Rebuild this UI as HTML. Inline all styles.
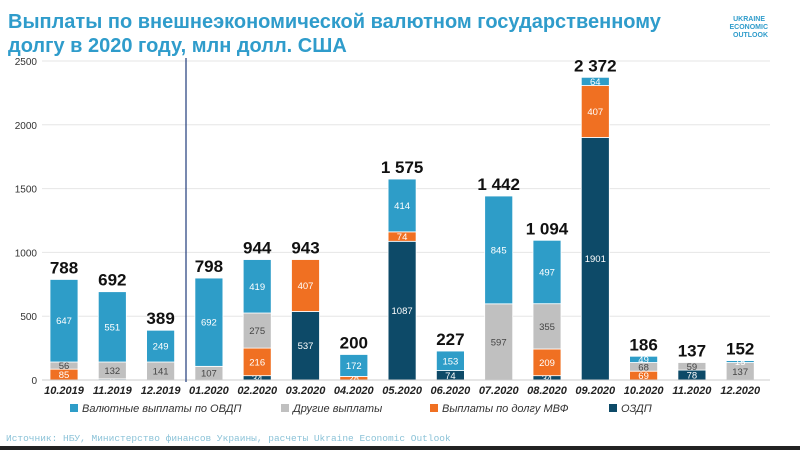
<!DOCTYPE html>
<html><head><meta charset="utf-8"><style>
body{margin:0;background:#fff;width:800px;height:450px;overflow:hidden;font-family:"Liberation Sans",sans-serif}
</style></head><body>
<svg id="s" width="800" height="450" xmlns="http://www.w3.org/2000/svg" font-family="Liberation Sans, sans-serif">
<text x="8" y="28" font-size="20" font-weight="bold" fill="#2f9ccb">Выплаты по внешнеэкономической валютном государственному</text>
<text x="8" y="52" font-size="20" font-weight="bold" fill="#2f9ccb">долгу в 2020 году, млн долл. США</text>
<text x="765" y="21" font-size="7" fill="#2f9ccb" text-anchor="end" font-weight="bold">UKRAINE</text>
<text x="768" y="29" font-size="7" fill="#2f9ccb" text-anchor="end" font-weight="bold">ECONOMIC</text>
<text x="768" y="37" font-size="7" fill="#2f9ccb" text-anchor="end" font-weight="bold">OUTLOOK</text>
<g id="g"></g>
<line x1="186" y1="58" x2="186" y2="382" stroke="#1f3b7a" stroke-width="1.2"/>
<g font-size="11" font-style="italic" fill="#333">
<rect x="70" y="404" width="8" height="8" fill="#2e9dc8"/><text x="82" y="412">Валютные выплаты по ОВДП</text>
<rect x="281" y="404" width="8" height="8" fill="#c0c0c0"/><text x="293" y="412">Другие выплаты</text>
<rect x="430" y="404" width="8" height="8" fill="#f07022"/><text x="442" y="412">Выплаты по долгу МВФ</text>
<rect x="609" y="404" width="8" height="8" fill="#0d4a68"/><text x="621" y="412">ОЗДП</text>
</g>
<text x="6" y="441" font-size="9.5" font-family="Liberation Mono, monospace" fill="#8cc3d8">Источник: НБУ, Министерство финансов Украины, расчеты Ukraine Economic Outlook</text>
<rect x="0" y="446" width="800" height="4" fill="#222"/>
</svg>
<script>
var d=[["10.2019",0,85,56,647,"788"],["11.2019",9,0,132,551,"692"],["12.2019",0,0,141,249,"389"],["01.2020",0,0,107,692,"798"],["02.2020",34,216,275,419,"944"],["03.2020",537,407,0,0,"943"],["04.2020",0,28,0,172,"200"],["05.2020",1087,74,0,414,"1 575"],["06.2020",74,0,0,153,"227"],["07.2020",0,0,597,845,"1 442"],["08.2020",34,209,355,497,"1 094"],["09.2020",1901,407,0,64,"2 372"],["10.2020",0,69,68,49,"186"],["11.2020",78,0,59,0,"137"],["12.2020",0,0,137,15,"152"]];
var c=["#0d4a68","#f07022","#c0c0c0","#2e9dc8"],tc=["#fff","#fff","#444","#fff"];
var y0=380,k=319/2500,h="";
for(var v=0;v<=2500;v+=500){var y=y0-v*k;h+='<line x1="42" x2="770" y1="'+y+'" y2="'+y+'" stroke="#e6e6e6"/><text x="37" y="'+(y+4)+'" font-size="10" text-anchor="end" fill="#333">'+v+'</text>';}
d.forEach(function(r,i){var cx=64+i*48.3,w=28,y=y0;
for(var j=0;j<4;j++){var val=r[j+1];if(!val)continue;var hh=val*k;y-=hh;
h+='<rect x="'+(cx-w/2)+'" y="'+y+'" width="'+w+'" height="'+hh+'" fill="'+c[j]+'" stroke="#fff" stroke-width="0.8"/>';
h+='<text x="'+cx+'" y="'+(y+hh/2+3.5)+'" font-size="9.5" text-anchor="middle" fill="'+tc[j]+'">'+val+'</text>';}
h+='<text x="'+cx+'" y="'+(y-6)+'" font-size="17" font-weight="bold" text-anchor="middle" fill="#111">'+r[5]+'</text>';
h+='<text x="'+cx+'" y="394" font-size="11" font-weight="bold" font-style="italic" text-anchor="middle" fill="#222">'+r[0]+'</text>';});
h+='<line x1="42" x2="770" y1="380" y2="380" stroke="#ccc"/>';
document.getElementById("g").innerHTML=h;
</script>
</body></html>
